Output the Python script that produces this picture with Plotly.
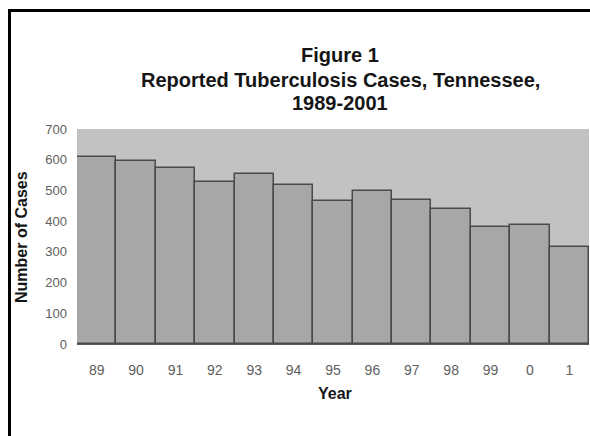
import plotly.graph_objects as go

years = ["89", "90", "91", "92", "93", "94", "95", "96", "97", "98", "99", "0", "1"]
cases = [608, 595, 572, 526, 553, 517, 464, 498, 470, 441, 382, 388, 316]
y_ticks = [0, 100, 200, 300, 400, 500, 600, 700]

W, H = 590, 436
L, R, T, B = 77, 1, 129, 92
pw, ph = W - L - R, H - T - B

def px(x):
    return (x - L) / pw

def py(y):
    return (H - B - y) / ph

fig = go.Figure()
fig.add_trace(go.Bar(
    x=years, y=cases,
    marker=dict(color="#a7a7a7", line=dict(color="#4a4a4a", width=1.5)),
    hoverinfo="x+y",
))

font = "Liberation Sans, Arial, sans-serif"
fig.update_layout(
    width=W, height=H,
    margin=dict(l=L, r=R, t=T, b=B, pad=0),
    paper_bgcolor="white",
    plot_bgcolor="#c2c2c2",
    bargap=0,
    showlegend=False,
    font=dict(family=font),
    xaxis=dict(
        type="category", showgrid=False, zeroline=False,
        showline=True, linecolor="#5a5a5a", linewidth=1,
        tickfont=dict(size=14, color="#606060"),
        ticks="", ticklabelstandoff=13,
    ),
    yaxis=dict(
        range=[0, 700], tickvals=y_ticks, showgrid=False, zeroline=False,
        showline=False, tickfont=dict(size=13, color="#606060"),
        ticks="", ticklabelstandoff=9,
    ),
)

title_lines = [("Figure 1", 55), ("Reported Tuberculosis Cases, Tennessee,", 80), ("1989-2001", 103)]
for txt, yc in title_lines:
    fig.add_annotation(text="<b>%s</b>" % txt, xref="paper", yref="paper",
                       x=px(340), y=py(yc), xanchor="center", yanchor="middle",
                       showarrow=False, font=dict(size=20, color="#151515", family=font))

fig.add_annotation(text="<b>Year</b>", xref="paper", yref="paper",
                   x=px(334.5), y=py(393), xanchor="center", yanchor="middle",
                   showarrow=False, font=dict(size=16, color="#151515", family=font))
fig.add_annotation(text="<b>Number of Cases</b>", xref="paper", yref="paper",
                   x=px(21), y=py(237), xanchor="center", yanchor="middle", textangle=-90,
                   showarrow=False, font=dict(size=16, color="#151515", family=font))

fig.add_shape(type="rect", xref="paper", yref="paper",
              x0=px(9.5), x1=px(700), y0=py(600), y1=py(10.5),
              line=dict(color="black", width=3), fillcolor="rgba(0,0,0,0)")

fig.write_html("out.html", config={"displayModeBar": False},
               post_script="document.body.style.margin='0';document.body.style.overflow='hidden';")
